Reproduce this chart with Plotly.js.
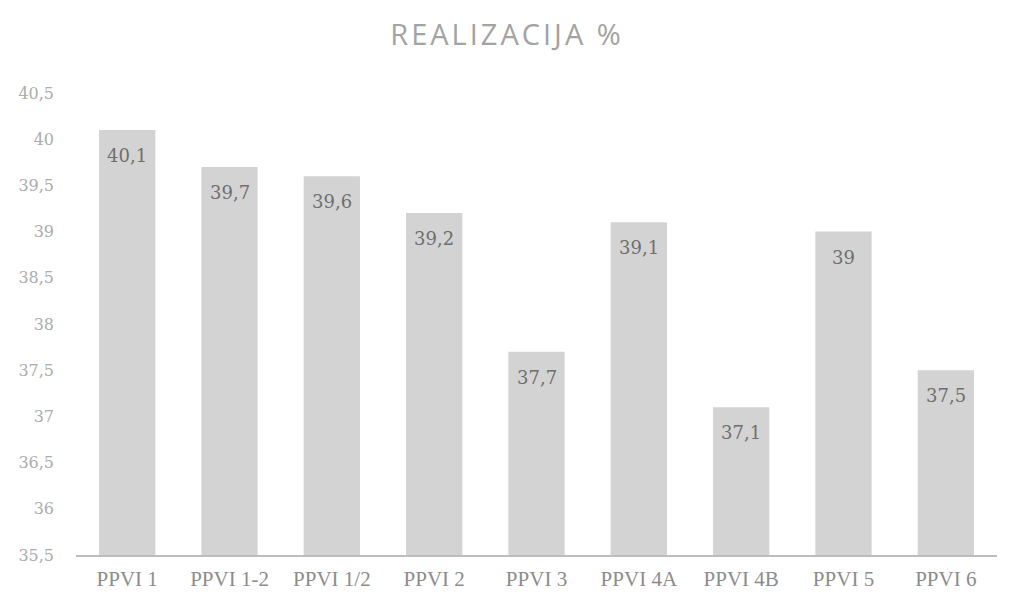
<!DOCTYPE html>
<html>
<head>
<meta charset="utf-8">
<script src="https://cdn.plot.ly/plotly-3.0.1.min.js"></script>
<style>
  html, body { margin: 0; padding: 0; background: #fff; }
  #chart { width: 1014px; height: 606px; }
  #chart .gtitle { letter-spacing: 3px; }
</style>
</head>
<body>
<div id="chart"></div>
<script>
const categories = ['PPVI 1', 'PPVI 1-2', 'PPVI 1/2', 'PPVI 2', 'PPVI 3', 'PPVI 4A', 'PPVI 4B', 'PPVI 5', 'PPVI 6'];
const realizacija = [40.1, 39.7, 39.6, 39.2, 37.7, 39.1, 37.1, 39, 37.5];
const yTicks = [35.5, 36, 36.5, 37, 37.5, 38, 38.5, 39, 39.5, 40, 40.5];

const fmt = v => String(v).replace('.', ',');

const bars = {
  type: 'bar',
  x: categories,
  y: realizacija,
  marker: { color: '#d3d3d3' },
  hoverinfo: 'x+y'
};

const labels = categories.map((c, i) => ({
  x: c,
  y: realizacija[i],
  text: fmt(realizacija[i]),
  showarrow: false,
  yanchor: 'top',
  yshift: -13,
  font: { family: 'DejaVu Serif, Liberation Serif, serif', size: 18, color: '#6e6e6e' }
}));

const layout = {
  width: 1014,
  height: 606,
  margin: { l: 76, r: 17, t: 93, b: 51 },
  paper_bgcolor: '#ffffff',
  plot_bgcolor: '#ffffff',
  separators: ',.',
  showlegend: false,
  bargap: 0.45,
  title: {
    text: 'REALIZACIJA %',
    x: 0.5,
    xanchor: 'center',
    y: 0.943,
    yanchor: 'middle',
    font: { family: 'Open Sans, Liberation Sans, sans-serif', size: 29, color: '#a3a3a3' }
  },
  xaxis: {
    type: 'category',
    showgrid: false,
    zeroline: false,
    showline: true,
    linecolor: '#bdbdbd',
    linewidth: 2,
    ticks: '',
    ticklabelstandoff: 4,
    tickfont: { family: 'Liberation Serif, DejaVu Serif, serif', size: 21, color: '#8c8c8c' }
  },
  yaxis: {
    range: [35.5, 40.5],
    tickvals: yTicks,
    ticktext: yTicks.map(fmt),
    showgrid: false,
    zeroline: false,
    showline: false,
    ticks: '',
    ticklabelstandoff: 21,
    tickfont: { family: 'DejaVu Serif, Liberation Serif, serif', size: 16, color: '#acacac' }
  },
  annotations: labels
};

Plotly.newPlot('chart', [bars], layout, { displayModeBar: false, staticPlot: true });
</script>
</body>
</html>
